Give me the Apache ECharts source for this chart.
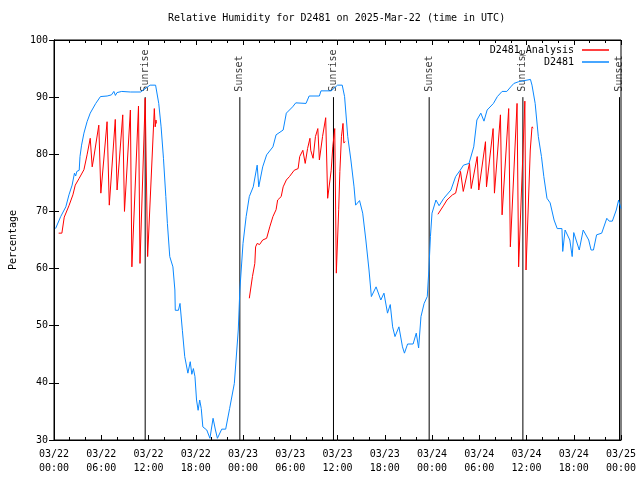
<!DOCTYPE html>
<html>
<head>
<meta charset="utf-8">
<script src="https://cdn.jsdelivr.net/npm/echarts@6/dist/echarts.min.js"></script>
<style>html,body{margin:0;padding:0;background:#fff}#c{width:640px;height:480px}</style>
</head>
<body>
<div id="c"></div>
<script>
// time in hours since 03/22 00:00 UTC
var xTickLabels = ['03/22\n00:00','03/22\n06:00','03/22\n12:00','03/22\n18:00','03/23\n00:00','03/23\n06:00','03/23\n12:00','03/23\n18:00','03/24\n00:00','03/24\n06:00','03/24\n12:00','03/24\n18:00','03/25\n00:00'];
var eventTimes = [11.578, 23.60, 35.49, 47.64, 59.54, 71.81];
var eventNames = ['Sunrise','Sunset','Sunrise','Sunset','Sunrise','Sunset'];

var observed = [[0.2,67.0],[0.85,69.1],[1.5,70.8],[1.9,72.9],[2.3,74.6],[2.6,76.7],[2.75,76.2],[2.9,77.0],[3.2,77.2],[3.3,79.6],[3.5,81.6],[3.8,83.7],[4.2,85.7],[4.6,87.2],[5.3,88.9],[5.9,90.1],[6.75,90.2],[7.3,90.4],[7.6,91.0],[7.8,90.3],[8.0,90.8],[8.6,91.0],[9.7,90.9],[11.0,90.9],[11.4,91.3],[12.2,92.1],[12.9,92.1],
[13.3,88.9],[13.6,84.8],[13.9,79.3],[14.2,72.6],[14.4,67.9],[14.7,62.1],[15.1,60.3],[15.35,56.25],[15.4,52.7],[15.8,52.7],[16.0,53.9],[16.3,49.2],[16.6,44.6],[17.0,41.7],[17.3,43.7],[17.5,41.5],[17.7,42.5],[17.9,41.1],[18.1,37.0],[18.3,35.2],[18.5,37.0],[18.7,35.5],[18.9,32.3],[19.4,31.75],[19.8,30.3],[20.2,33.8],[20.5,31.75],[20.75,30.3],[21.3,31.9],[21.8,31.9],[22.3,35.5],[22.9,39.9],[23.4,49.25],[23.6,56.25],[24.0,64.4],[24.4,69.1],[24.8,72.6],[25.3,74.3],[25.8,78.1],[26.0,74.3],[26.5,77.8],[27.0,79.9],[27.8,81.3],[28.2,83.4],[29.1,84.25],[29.5,87.2],[30.3,88.3],[30.7,89.0],[32.0,88.9],[32.4,90.2],[33.7,90.2],[33.9,91.1],[35.2,91.1],[36.0,92.1],[36.6,92.1],
[36.9,90.1],[37.3,83.1],[37.7,79.0],[38.1,74.3],[38.3,71.1],[38.8,71.9],[39.2,69.7],[39.6,65.0],[40.0,59.75],[40.3,55.1],[40.9,56.8],[41.5,54.5],[41.9,55.7],[42.35,52.2],[42.7,53.7],[43.0,49.8],[43.3,48.1],[43.8,49.8],[44.25,46.3],[44.5,45.2],[44.9,46.8],[45.6,46.8],[46.0,48.7],[46.3,46.1],[46.6,51.6],[47.0,53.9],[47.4,55.1],[47.6,59.75],[47.8,65.6],[48.0,69.7],[48.5,72.0],[48.9,71.0],[49.5,72.3],[50.4,73.75],[51.0,76.1],[51.6,77.25],[52.0,78.1],[52.7,78.4],[53.3,81.3],[53.7,86.0],[54.2,87.2],[54.6,85.8],[55.0,87.75],[55.8,88.9],[56.3,90.1],[56.9,91.0],[57.5,91.0],[58.0,91.8],[58.4,92.4],[59.0,92.7],[60.5,93.1],
[60.7,92.1],[61.1,88.9],[61.5,83.1],[61.9,79.6],[62.2,76.1],[62.6,72.3],[63.0,71.5],[63.5,68.5],[63.9,67.0],[64.5,67.0],[64.6,63.0],[64.9,66.75],[65.5,65.0],[65.8,62.1],[66.0,66.3],[66.7,63.25],[67.2,66.75],[67.9,65.0],[68.2,63.25],[68.5,63.25],[68.9,65.9],[69.55,66.2],[70.2,68.8],[70.5,68.3],[70.9,68.3],[71.4,70.25],[71.7,72.0],[72.0,70.5]];

var analysisDay1 = [[0.59,66.2],[1.0,66.2],[1.3,69.0],[1.9,71.0],[2.4,72.9],[2.7,74.6],[3.2,75.8],[3.8,77.3],[4.2,79.9],[4.6,82.8],[4.85,77.8],[5.0,79.0],[5.69,85.1],[5.95,73.2],[6.74,85.7],[7.02,71.1],[7.78,86.1],[8.01,73.75],[8.73,86.9],[8.95,70.0],[9.7,87.75],[9.89,60.3],[10.73,88.45],[10.92,60.9],[11.58,89.8],[11.89,62.1],[12.74,88.0],[12.85,84.8],[12.95,86.0],[13.0,85.4]];
var analysisDay2 = [[24.8,54.8],[25.05,54.8],[25.2,58.6],[25.5,60.9],[25.6,63.8],[25.8,64.4],[26.1,64.2],[26.5,65.0],[27.0,65.3],[27.4,67.3],[27.8,69.1],[28.2,70.3],[28.4,72.0],[28.85,72.6],[29.1,74.3],[29.5,75.5],[29.9,76.1],[30.5,77.2],[31.0,77.5],[31.2,79.6],[31.6,80.7],[31.8,81.0],[31.9,78.4],[32.2,81.0],[32.5,82.8],[32.6,80.7],[32.9,79.3],[33.2,83.1],[33.5,84.5],[33.7,79.0],[34.1,83.1],[34.5,86.4],[34.75,72.3],[35.2,77.2],[35.4,81.3],[35.65,84.5],[35.85,59.2],[36.15,70.3],[36.3,77.0],[36.5,83.1],[36.7,85.4],[36.8,82.0],[36.99,82.2]];
var analysisDay3 = [[48.75,69.5],[48.95,69.5],[49.5,71.1],[49.9,72.0],[50.6,72.9],[51.0,73.2],[51.3,75.0],[51.62,77.0],[51.97,73.5],[52.76,78.4],[52.98,74.0],[53.74,79.6],[53.94,73.75],[54.79,82.2],[54.92,74.3],[55.76,84.5],[55.93,73.2],[56.69,86.9],[56.9,69.4],[57.74,88.0],[57.95,63.8],[58.8,88.9],[59.0,60.3],[59.79,89.3],[59.94,59.75],[60.48,80.75],[60.7,84.8],[60.86,84.6]];

var FONT = 'DejaVu Sans Mono';
var RED = '#ff0000';
var BLUE = '#0a88ff';

var series = [];
eventTimes.forEach(function (t) {
  series.push({
    type: 'line', name: 'ev', data: [[t, 30], [t, 90]], symbol: 'none', silent: true,
    lineStyle: { color: '#000', width: 1 }, z: 1
  });
});
series.push({
  type: 'scatter', name: 'evlabel', symbolSize: 1, silent: true,
  itemStyle: { color: 'rgba(0,0,0,0)' },
  data: eventTimes.map(function (t, i) { return [t, 90, eventNames[i]]; }),
  label: {
    show: true, position: 'top', distance: 5, rotate: 90, align: 'left', verticalAlign: 'middle',
    fontFamily: FONT, fontSize: 10, color: '#000',
    formatter: function (p) { return p.value[2]; }
  }, z: 2
});
[analysisDay1, analysisDay2, analysisDay3].forEach(function (d) {
  series.push({
    type: 'line', name: 'D2481_Analysis', data: d, symbol: 'none',
    lineStyle: { color: RED, width: 1 }, itemStyle: { color: RED }, z: 3
  });
});
series.push({
  type: 'line', name: 'D2481', data: observed, symbol: 'none',
  lineStyle: { color: BLUE, width: 1 }, itemStyle: { color: BLUE }, z: 4
});

var axisCommon = {
  axisLine: { show: true, lineStyle: { color: '#000', width: 1 } },
  axisTick: { show: true, inside: true, length: 5, lineStyle: { color: '#000' } },
  splitLine: { show: false }
};

var chart = echarts.init(document.getElementById('c'), null, { renderer: 'canvas' });
chart.setOption({
  animation: false,
  backgroundColor: '#fff',
  title: {
    text: 'Relative Humidity for D2481 on 2025-Mar-22 (time in UTC)',
    left: 168, top: 13, padding: 0,
    textStyle: { fontFamily: FONT, fontSize: 10, fontWeight: 'normal', color: '#000' }
  },
  legend: {
    data: ['D2481_Analysis', 'D2481'],
    orient: 'vertical', align: 'right', right: 31, top: 44, padding: 0,
    itemWidth: 27, itemHeight: 1.5, itemGap: 0, icon: 'rect',
    selectedMode: false,
    textStyle: { fontFamily: FONT, fontSize: 10, color: '#000', lineHeight: 12, padding: [0, 3, 0, 0] }
  },
  grid: { left: 52, right: 19, top: 40, bottom: 40, show: true, borderColor: '#000', borderWidth: 1 },
  xAxis: [
    Object.assign({}, axisCommon, {
      type: 'value', min: 0, max: 72, interval: 6, position: 'bottom',
      minorTick: { show: true, splitNumber: 3, length: 3, lineStyle: { color: '#000' } },
      axisLabel: {
        show: true, margin: 7, fontFamily: FONT, fontSize: 10, color: '#000', lineHeight: 14,
        showMinLabel: true, showMaxLabel: true, hideOverlap: false,
        formatter: function (v) { return xTickLabels[Math.round(v / 6)]; }
      }
    }),
    Object.assign({}, axisCommon, {
      type: 'value', min: 0, max: 72, interval: 6, position: 'top',
      minorTick: { show: true, splitNumber: 3, length: 3, lineStyle: { color: '#000' } },
      axisLabel: { show: false }
    })
  ],
  yAxis: [
    Object.assign({}, axisCommon, {
      type: 'value', min: 30, max: 100, interval: 10, position: 'left',
      name: 'Percentage', nameLocation: 'middle', nameGap: 36, nameRotate: 90,
      nameTextStyle: { fontFamily: FONT, fontSize: 10, color: '#000' },
      axisLabel: { show: true, margin: 6, fontFamily: FONT, fontSize: 10, color: '#000' }
    }),
    Object.assign({}, axisCommon, {
      type: 'value', min: 30, max: 100, interval: 10, position: 'right',
      axisLabel: { show: false }
    })
  ],
  series: series
});
</script>
</body>
</html>
